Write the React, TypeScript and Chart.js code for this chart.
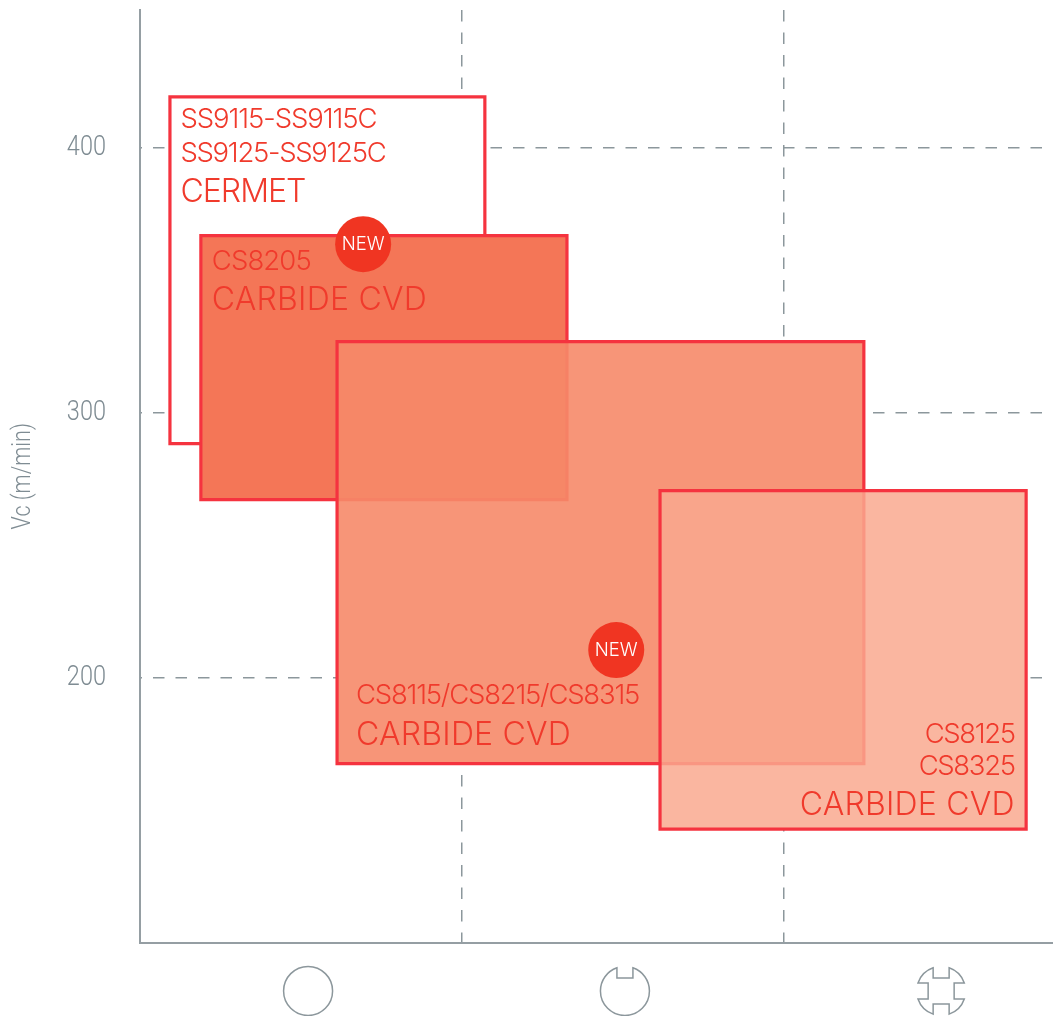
import React, { useEffect, useRef } from "react";
import { Chart, registerables } from "chart.js";

Chart.register(...registerables);

// Data
const yTickValues = [200, 300, 400];
const xDividers = [1, 2];
const xRange = [0, 2.8354];
const yRange = [100, 452];
const yTitle = "Vc (m/min)";

const cermetX = [0.093, 1.071];
const cermetY = [288.3, 419.2];
const cs8205X = [0.189, 1.326];
const cs8205Y = [267.2, 366.8];
const cs8115X = [0.612, 2.248];
const cs8115Y = [167.5, 326.8];
const cs8125X = [1.615, 2.752];
const cs8125Y = [142.8, 270.6];

const cermetLines = ["SS9115-SS9115C", "SS9125-SS9125C", "CERMET"];
const cs8205Lines = ["CS8205", "CARBIDE CVD"];
const cs8115Lines = ["CS8115/CS8215/CS8315", "CARBIDE CVD"];
const cs8125Lines = ["CS8125", "CS8325", "CARBIDE CVD"];

const newBadgeX = [0.693, 1.479];
const newBadgeY = [363.6, 210.4];
const newBadgeText = "NEW";

const iconX = [0.522, 1.506, 2.488];
const iconY = 81.7;
const iconNotches = [
  [false, false, false, false],
  [true, false, false, false],
  [true, true, true, true],
];

// Styles
const RED = "#f5333f";
const TEXT_RED = "#f03a2c";
const GREY = "#8c979c";
const AXIS_GREY = "#959ea3";
const TICK_GREY = "#7f8c93";
const FONT = "Inter";

const rectPoints = (xs: number[], ys: number[]) => [
  { x: xs[0], y: ys[0] },
  { x: xs[1], y: ys[0] },
  { x: xs[1], y: ys[1] },
  { x: xs[0], y: ys[1] },
  { x: xs[0], y: ys[0] },
];

const boxes = [
  { x: cermetX, y: cermetY, fill: "#ffffff" },
  { x: cs8205X, y: cs8205Y, fill: "#f47657" },
  { x: cs8115X, y: cs8115Y, fill: "rgba(246,138,105,0.9)" },
  { x: cs8125X, y: cs8125Y, fill: "rgba(249,169,142,0.845)" },
];

// side: anchor side; dx from that side in px; base: baselines from box edge in px; widths: fitted line widths in px
const textBlocks = [
  { lines: cermetLines, xs: cermetX, ys: cermetY, side: "left", dx: 10.5, edge: "top", base: [31, 65, 105], big: [false, false, true], widths: [196, 205, 125] },
  { lines: cs8205Lines, xs: cs8205X, ys: cs8205Y, side: "left", dx: 11, edge: "top", base: [34, 74], big: [false, true], widths: [99, 215] },
  { lines: cs8115Lines, xs: cs8115X, ys: cs8115Y, side: "left", dx: 19, edge: "bottom", base: [-60, -19], big: [false, true], widths: [283, 215] },
  { lines: cs8125Lines, xs: cs8125X, ys: cs8125Y, side: "right", dx: -11.5, edge: "bottom", base: [-86, -54, -14], big: [false, false, true], widths: [90, 96, 215] },
];

function iconPath(ctx: CanvasRenderingContext2D, cx: number, cy: number, notches: boolean[]) {
  const r = 24.5;
  const w = 8;
  const depth = 13;
  const a = Math.asin(w / r);
  const outer = Math.sqrt(r * r - w * w);
  ctx.beginPath();
  for (let k = 0; k < 4; k++) {
    const base = -Math.PI / 2 + (k * Math.PI) / 2;
    const c = Math.cos(base);
    const s = Math.sin(base);
    const pt = (along: number, radial: number): [number, number] => [
      cx + radial * c - along * s,
      cy + radial * s + along * c,
    ];
    const next = notches[(k + 1) % 4];
    if (notches[k]) {
      ctx.lineTo(...pt(-w, outer));
      ctx.lineTo(...pt(-w, depth));
      ctx.lineTo(...pt(w, depth));
      ctx.lineTo(...pt(w, outer));
    }
    ctx.arc(cx, cy, r, base + (notches[k] ? a : 0), base + Math.PI / 2 - (next ? a : 0));
  }
  ctx.closePath();
  ctx.stroke();
}

function narrowText(ctx: CanvasRenderingContext2D, text: string, px: number, py: number, sx: number, rotate = 0) {
  ctx.save();
  ctx.translate(px, py);
  if (rotate) ctx.rotate(rotate);
  ctx.scale(sx, 1);
  ctx.fillText(text, 0, 0);
  ctx.restore();
}

const annotations = {
  id: "annotations",
  afterDatasetsDraw(chart: any) {
    const { ctx, scales } = chart;
    const { x, y } = scales;
    ctx.save();
    ctx.fillStyle = TEXT_RED;
    ctx.textBaseline = "alphabetic";
    for (const b of textBlocks) {
      const px = x.getPixelForValue(b.side === "left" ? b.xs[0] : b.xs[1]) + b.dx;
      const py = y.getPixelForValue(b.edge === "top" ? b.ys[1] : b.ys[0]);
      ctx.textAlign = b.side;
      b.lines.forEach((line: string, i: number) => {
        ctx.font = `300 ${b.big[i] ? 32 : 27.5}px ${FONT}`;
        ctx.letterSpacing = "0px";
        const natural = ctx.measureText(line).width;
        ctx.letterSpacing = `${(b.widths[i] - natural) / line.length}px`;
        ctx.fillText(line, px, py + b.base[i]);
      });
    }
    ctx.letterSpacing = "0px";
    ctx.fillStyle = "#ffffff";
    ctx.textAlign = "center";
    ctx.font = `300 18.5px ${FONT}`;
    newBadgeX.forEach((bx, i) => {
      ctx.fillText(newBadgeText, x.getPixelForValue(bx), y.getPixelForValue(newBadgeY[i]) + 6);
    });
    ctx.strokeStyle = GREY;
    ctx.lineWidth = 1.5;
    iconX.forEach((ix, i) => {
      iconPath(ctx, x.getPixelForValue(ix), y.getPixelForValue(iconY), iconNotches[i]);
    });
    // condensed axis text, placed from the scale's own ticks
    ctx.fillStyle = TICK_GREY;
    ctx.font = `300 28px Roboto`;
    ctx.textAlign = "right";
    for (const t of y.ticks) {
      narrowText(ctx, String(t.value), 106, y.getPixelForValue(t.value) + 7, 0.84);
    }
    ctx.textAlign = "center";
    ctx.font = `300 25px Roboto`;
    narrowText(ctx, yTitle, 30, (y.top + y.bottom) / 2, 0.86, -Math.PI / 2);
    ctx.restore();
  },
};

export default function App() {
  const ref = useRef<HTMLCanvasElement>(null);
  useEffect(() => {
    const masks = boxes.map((b) => ({
      type: "scatter" as const,
      data: rectPoints(b.x, b.y),
      showLine: true,
      fill: "shape",
      backgroundColor: "#ffffff",
      borderWidth: 0,
      pointRadius: 0,
      tension: 0,
      order: 100,
      clip: false,
    }));
    const rects = boxes.map((b, i) => ({
      type: "scatter" as const,
      data: rectPoints(b.x, b.y),
      showLine: true,
      fill: "shape",
      backgroundColor: b.fill,
      borderColor: RED,
      borderWidth: 3.2,
      borderJoinStyle: "miter" as const,
      borderCapStyle: "square" as const,
      pointRadius: 0,
      tension: 0,
      order: 50 - i,
      clip: false,
    }));
    const badges = {
      type: "scatter" as const,
      data: newBadgeX.map((bx, i) => ({ x: bx, y: newBadgeY[i] })),
      showLine: false,
      backgroundColor: "#f03522",
      borderWidth: 0,
      pointRadius: 28,
      pointHoverRadius: 28,
      order: 1,
      clip: false,
    };
    const chart = new Chart(ref.current!, {
      type: "scatter",
      data: { datasets: [...masks, ...rects, badges] as any },
      options: {
        responsive: false,
        animation: false,
        events: [],
        layout: { autoPadding: false, padding: { top: 10, bottom: 73.5, left: 0, right: 0 } },
        plugins: { legend: { display: false }, tooltip: { enabled: false } },
        scales: {
          x: {
            type: "linear",
            min: xRange[0],
            max: xRange[1],
            afterBuildTicks: (s: any) => {
              s.ticks = xDividers.map((value) => ({ value }));
            },
            afterFit: (s: any) => {
              s.height = 0;
            },
            ticks: { display: false },
            grid: { color: GREY, lineWidth: 1.5, drawTicks: false },
            border: { color: AXIS_GREY, width: 2, dash: [11.5, 11], dashOffset: 0 },
          },
          y: {
            type: "linear",
            min: yRange[0],
            max: yRange[1],
            afterBuildTicks: (s: any) => {
              s.ticks = yTickValues.map((value) => ({ value }));
            },
            afterFit: (s: any) => {
              s.width = 140;
            },
            ticks: { display: false },
            grid: { color: GREY, lineWidth: 1.5, drawTicks: false },
            border: { color: AXIS_GREY, width: 2, dash: [11.5, 11], dashOffset: 10.5 },
          },
        },
      },
      plugins: [annotations],
    });
    return () => chart.destroy();
  }, []);
  return (
    <div style={{ position: "fixed", left: 0, top: 0, width: 1053, height: 1016, background: "#fff" }}>
      <canvas ref={ref} width={1053} height={1016} style={{ display: "block" }} />
    </div>
  );
}
